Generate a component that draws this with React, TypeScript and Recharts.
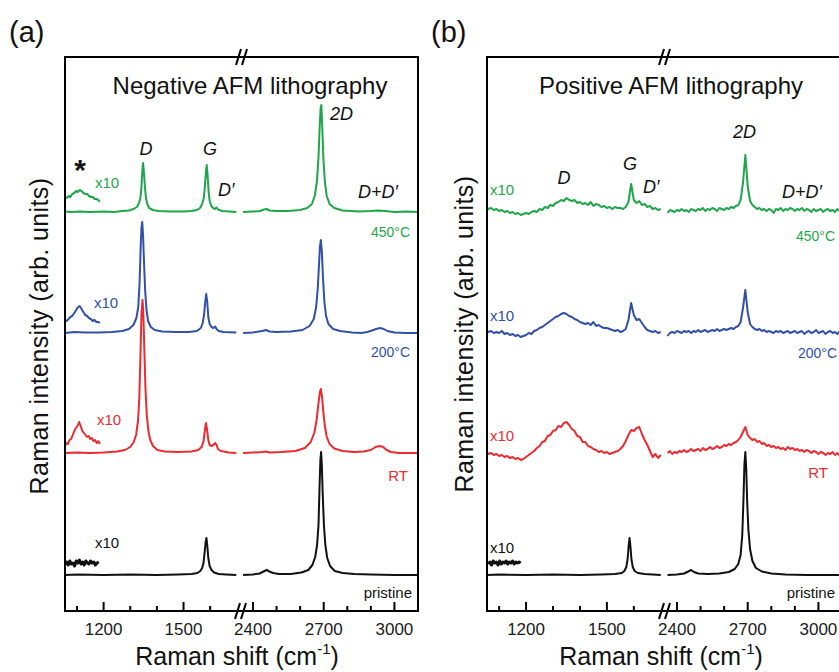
import React from 'react';
import { LineChart, Line, XAxis, YAxis } from 'recharts';

const FONT = '"Liberation Sans", Arial, Helvetica, sans-serif';
const GREEN = '#1FA64A';
const BLUE = '#3350A8';
const RED = '#EC2A30';
const BLACK = '#111111';

// ---- axes ----
const LOW_DOMAIN = [1055, 1712];
const HIGH_DOMAIN = [2345, 3100];
const LOW_TICKS = [1100, 1200, 1300, 1400, 1500, 1600];
const HIGH_TICKS = [2400, 2500, 2600, 2700, 2800, 2900, 3000];
const MAJOR_TICKS = [1200, 1500, 2400, 2700, 3000];
const Y_DOMAIN = [0, 554];

// ---- (a) Negative AFM lithography: stacking offsets [450C, 200C, RT, pristine] ----
const negOffsets = [399, 278, 158, 36];

const negGreenLow = [[1055,0.5],[1080,0],[1110,0.5],[1150,0],[1200,0.5],[1240,0],[1270,1],[1295,1.5],[1312,3],[1325,5],[1333,9],[1338,14],[1342,25],[1345,40],[1348,49],[1351,41],[1355,25],[1359,14],[1364,8],[1371,4],[1385,2],[1405,1],[1450,0.5],[1500,0.5],[1530,1],[1550,2],[1562,4],[1570,8],[1576,14],[1580,25],[1584,40],[1587,47],[1590,38],[1594,21],[1598,11],[1604,6],[1611,4],[1618,3],[1624,4.5],[1630,2.5],[1645,1],[1670,0.5],[1698,0]];
const negGreenHigh = [[2358,0],[2400,0.5],[2430,1],[2447,2.5],[2458,3],[2470,1.5],[2500,1],[2550,1],[2600,2],[2630,4],[2650,8],[2662,16],[2671,30],[2678,55],[2683,85],[2687,104],[2690,107],[2694,84],[2699,52],[2705,30],[2713,16],[2725,8],[2745,4],[2780,1.5],[2850,0.5],[2900,1],[2930,1.5],[2960,1],[3000,0],[3050,0.5],[3100,0]];
const negGreenX10 = [[1055,15],[1062,14],[1068,16],[1075,15],[1082,18],[1090,19],[1097,21],[1104,20],[1110,22],[1117,21],[1124,19],[1131,18],[1138,18],[1145,16],[1152,15],[1159,15],[1166,13],[1173,13],[1180,12],[1186,10]];

const negBlueLow = [[1055,0],[1090,1],[1130,0.5],[1180,0.5],[1230,1],[1270,2],[1295,4],[1312,8],[1323,15],[1330,26],[1335,50],[1339,85],[1342,105],[1345,111],[1348,98],[1352,68],[1356,42],[1361,23],[1367,12],[1377,6],[1392,3],[1420,1.5],[1470,1],[1520,1],[1550,2],[1565,5],[1572,10],[1577,18],[1581,30],[1585,39],[1589,31],[1593,16],[1598,9],[1605,6],[1612,5],[1619,6.5],[1624,4],[1632,2],[1650,1],[1698,0.5]];
const negBlueHigh = [[2358,0],[2400,0.5],[2440,2],[2455,3],[2470,1.5],[2500,1],[2560,1.5],[2610,3],[2640,7],[2658,14],[2668,26],[2675,45],[2680,68],[2684,86],[2688,93],[2692,82],[2697,55],[2703,31],[2710,17],[2720,9],[2740,4],[2770,2],[2820,0.5],[2860,0],[2885,1],[2905,2.5],[2922,4],[2940,5],[2955,4],[2970,2],[3000,0.5],[3050,0],[3100,0]];
const negBlueX10 = [[1055,13],[1062,12],[1068,14],[1075,16],[1082,17],[1090,20],[1097,23],[1104,26],[1110,27],[1117,24],[1124,21],[1131,18],[1138,17],[1145,15],[1152,14],[1159,12],[1166,13],[1173,11],[1180,11],[1186,10]];

const negRedLow = [[1055,0],[1100,0.5],[1150,0],[1200,0.5],[1250,1.5],[1280,3],[1300,6],[1313,11],[1322,18],[1329,32],[1334,55],[1338,95],[1342,138],[1346,153],[1349,140],[1353,102],[1357,65],[1362,38],[1368,22],[1375,13],[1385,7],[1402,3],[1430,1.5],[1480,1],[1530,1.5],[1555,3],[1568,6],[1575,12],[1580,22],[1584,30],[1588,24],[1593,13],[1598,8],[1605,7],[1612,8],[1619,10],[1624,8],[1629,4],[1640,2],[1670,0.5],[1698,0]];
const negRedHigh = [[2358,0],[2400,0.5],[2440,1],[2455,1.5],[2470,0.5],[2520,1],[2580,2],[2620,5],[2645,11],[2660,20],[2670,33],[2678,50],[2684,61],[2688,64],[2693,56],[2698,42],[2705,27],[2713,16],[2725,9],[2745,4.5],[2780,2],[2830,1],[2870,1.5],[2900,3],[2920,6],[2937,7],[2952,6],[2967,3],[2985,1],[3020,0],[3100,0]];
const negRedX10 = [[1055,7],[1060,10],[1066,9],[1072,13],[1078,14],[1084,18],[1090,22],[1096,25],[1102,27],[1108,31],[1114,27],[1120,22],[1126,20],[1132,18],[1138,16],[1144,17],[1150,14],[1156,15],[1162,12],[1168,13],[1174,10],[1180,12],[1186,9]];

const negBlackLow = [[1055,0],[1100,0.5],[1200,0],[1300,0.5],[1400,0],[1480,0.5],[1530,1],[1552,2],[1563,4],[1570,7],[1575,12],[1579,22],[1583,33],[1586,37],[1589,30],[1593,17],[1598,9],[1605,5],[1615,2.5],[1632,1],[1660,0.5],[1698,0]];
const negBlackHigh = [[2358,0],[2400,0.5],[2428,1.5],[2445,3.5],[2458,5],[2470,3.5],[2485,2],[2510,1],[2560,1],[2605,2.5],[2635,5],[2652,10],[2664,18],[2672,30],[2678,50],[2682,85],[2686,115],[2689,123],[2692,110],[2696,80],[2701,50],[2707,30],[2715,17],[2727,9],[2747,4],[2780,2],[2830,1],[2900,0.5],[3000,0],[3100,0]];
const negBlackX10 = [[1055,11],[1061,13],[1067,10],[1073,14],[1079,11],[1085,12],[1091,9],[1097,14],[1103,12],[1109,15],[1115,11],[1121,13],[1127,10],[1133,14],[1139,12],[1145,11],[1151,14],[1157,12],[1163,13],[1169,10],[1175,12],[1182,13]];

// ---- (b) Positive AFM lithography ----
const posOffsets = [401, 279, 157, 36];
const posLowX = [1055,1060,1070,1080,1090,1100,1110,1120,1130,1140,1150,1160,1170,1180,1190,1200,1210,1220,1230,1240,1250,1260,1270,1280,1290,1300,1310,1320,1330,1340,1350,1360,1370,1380,1390,1400,1410,1420,1430,1440,1450,1460,1470,1480,1490,1500,1510,1520,1530,1540,1550,1560,1570,1580,1590,1600,1610,1620,1630,1640,1650,1660,1670,1680,1690,1700];
const posHighX = [2360,2370,2380,2390,2400,2410,2420,2430,2440,2450,2460,2470,2480,2490,2500,2510,2520,2530,2540,2550,2560,2570,2580,2590,2600,2610,2620,2630,2640,2650,2660,2670,2680,2690,2700,2710,2720,2730,2740,2750,2760,2770,2780,2790,2800,2810,2820,2830,2840,2850,2860,2870,2880,2890,2900,2910,2920,2930,2940,2950,2960,2970,2980,2990,3000,3010,3020,3030,3040,3050,3060,3070,3080,3090,3100];

const posGreenLow = [2,1,2,0,1,-1,0,-2,-1,-3, -2,-4,-3,-5,-4,-3,-4,-2,-1,-2, 1,0,3,2,5,4,7,8,10,9, 12,10,9,10,7,8,6,7,5,8, 4,6,5,3,4,2,3,1,3,2, 2,1,3,8,26,10,7,9,5,6, 3,4,1,2,0,1];
const posGreenHigh = [-3,0,-1,-2,0,-1,1,-1,0,-2, 1,0,-1,1,0,2,-1,1,0,2, 1,-1,2,1,0,2,1,3,2,4, 5,10,27,55,24,9,5,3,1,2, 0,1,-1,1,0,-3,1,0,2,-1, 1,0,2,1,-1,1,0,2,-1,1, 0,-2,1,-1,0,1,-2,0,1,-1, 0,-2,1,-1,0];
const posBlueLow = [1,0,1,-1,0,-1,1,-2,-1,-3, -2,-4,-3,-5,-4,-3,-1,-2,1,2, 4,5,7,9,11,13,15,16,18,19, 18,16,15,13,12,10,9,8,9,7, 10,6,7,5,4,4,3,2,1,2, 0,1,3,12,29,17,12,13,9,5, 2,1,0,1,-1,0];
const posBlueHigh = [-4,-1,0,-1,1,0,-1,1,0,1, -1,1,0,2,0,1,2,0,1,2, 1,3,1,2,3,2,3,4,3,5, 6,10,24,42,20,8,5,3,2,3, 1,2,0,1,0,-1,1,0,1,-1, 0,1,-1,0,1,-1,0,1,-2,0, 1,-1,0,2,-1,0,1,-2,0,1, -1,0,-2,1,-1];
const posRedLow = [2,0,1,-1,0,-2,-1,-3,-2,-4, -3,-5,-4,-6,-5,-3,-1,1,3,6, 8,12,13,18,19,23,24,28,27,31, 32,29,25,23,18,17,12,12,8,7, 5,4,2,3,1,2,0,1,2,3, 5,8,13,19,24,23,26,27,20,14, 9,3,-3,0,-4,-1];
const posRedHigh = [1,3,0,2,1,3,2,4,2,3, 5,3,4,5,3,6,4,5,7,5, 6,8,6,7,9,8,10,9,11,12, 14,17,22,27,19,16,14,15,12,13, 10,11,8,9,7,8,6,7,5,6, 4,7,5,6,4,5,3,4,2,4, 3,1,3,2,0,2,1,-1,1,0, 2,-1,1,-2,0];
const posBlackLow = [[1055,0],[1100,0.5],[1200,0],[1300,0.5],[1400,0],[1480,0.5],[1530,1],[1555,2],[1565,4],[1572,8],[1577,16],[1581,30],[1584,37],[1587,30],[1591,16],[1596,8],[1603,4],[1615,2],[1640,1],[1670,0.5],[1700,0]];
const posBlackHigh = [[2360,0],[2400,0.5],[2430,1.5],[2448,3.5],[2460,5],[2472,3],[2490,1.5],[2530,1],[2580,1.5],[2620,3],[2645,6],[2660,11],[2670,20],[2677,40],[2682,75],[2686,110],[2690,123],[2694,105],[2698,72],[2703,45],[2710,26],[2720,14],[2735,7],[2760,3.5],[2800,1.5],[2860,0.5],[2950,0],[3100,0]];
const posBlackX10 = [[1060,11],[1066,13],[1072,10],[1078,14],[1084,12],[1090,13],[1096,10],[1102,14],[1108,11],[1114,13],[1120,12],[1126,14],[1132,11],[1138,13],[1144,12],[1150,14],[1156,11],[1162,13],[1168,12],[1174,13],[1180,12]];

// ---- builders ----
type Row = { x: number; y: number };
const fromPairs = (pairs: number[][], offset: number): Row[] => pairs.map(([x, v]) => ({ x, y: v + offset }));
const fromGrid = (xs: number[], vs: number[], offset: number): Row[] => xs.map((x, i) => ({ x, y: vs[i] + offset }));

type Series = { data: Row[]; color: string; width: number };

const negLow: Series[] = [
  { data: fromPairs(negGreenLow, negOffsets[0]), color: GREEN, width: 2 },
  { data: fromPairs(negGreenX10, negOffsets[0]), color: GREEN, width: 2 },
  { data: fromPairs(negBlueLow, negOffsets[1]), color: BLUE, width: 2 },
  { data: fromPairs(negBlueX10, negOffsets[1]), color: BLUE, width: 2 },
  { data: fromPairs(negRedLow, negOffsets[2]), color: RED, width: 2 },
  { data: fromPairs(negRedX10, negOffsets[2]), color: RED, width: 2 },
  { data: fromPairs(negBlackLow, negOffsets[3]), color: BLACK, width: 2 },
  { data: fromPairs(negBlackX10, negOffsets[3]), color: BLACK, width: 3 },
];
const negHigh: Series[] = [
  { data: fromPairs(negGreenHigh, negOffsets[0]), color: GREEN, width: 2 },
  { data: fromPairs(negBlueHigh, negOffsets[1]), color: BLUE, width: 2 },
  { data: fromPairs(negRedHigh, negOffsets[2]), color: RED, width: 2 },
  { data: fromPairs(negBlackHigh, negOffsets[3]), color: BLACK, width: 2 },
];
const posLow: Series[] = [
  { data: fromGrid(posLowX, posGreenLow, posOffsets[0]), color: GREEN, width: 2 },
  { data: fromGrid(posLowX, posBlueLow, posOffsets[1]), color: BLUE, width: 2 },
  { data: fromGrid(posLowX, posRedLow, posOffsets[2]), color: RED, width: 2 },
  { data: fromPairs(posBlackLow, posOffsets[3]), color: BLACK, width: 2 },
  { data: fromPairs(posBlackX10, posOffsets[3]), color: BLACK, width: 3 },
];
const posHigh: Series[] = [
  { data: fromGrid(posHighX, posGreenHigh, posOffsets[0]), color: GREEN, width: 2 },
  { data: fromGrid(posHighX, posBlueHigh, posOffsets[1]), color: BLUE, width: 2 },
  { data: fromGrid(posHighX, posRedHigh, posOffsets[2]), color: RED, width: 2 },
  { data: fromPairs(posBlackHigh, posOffsets[3]), color: BLACK, width: 2 },
];

// ---- layout ----
const PLOT_TOP = 57;
const PLOT_H = 554;
const AXIS_H = 40;
const PAD = 30;

const AxisTick = (props: any) => {
  const { x, y, payload } = props;
  const v = payload.value;
  const major = MAJOR_TICKS.includes(v);
  return (
    <g>
      <line x1={x} x2={x} y1={y} y2={y - (major ? 9 : 5)} stroke="#000" strokeWidth={2} />
      {major ? (
        <text x={x} y={y + 24} textAnchor="middle" fontSize={17} fontFamily={FONT} fill="#1a1a1a">
          {v}
        </text>
      ) : null}
    </g>
  );
};

function Segment({ left, width, domain, ticks, series }: { left: number; width: number; domain: number[]; ticks: number[]; series: Series[] }) {
  const w = width + 2 * PAD;
  return (
    <div style={{ position: 'absolute', left: left - PAD, top: PLOT_TOP, width: w, height: PLOT_H + AXIS_H }}>
      <LineChart width={w} height={PLOT_H + AXIS_H} margin={{ top: 0, right: PAD, bottom: 0, left: PAD }}>
        <XAxis
          type="number"
          dataKey="x"
          domain={domain}
          ticks={ticks}
          interval={0}
          allowDataOverflow
          height={AXIS_H}
          tickSize={0}
          tickMargin={0}
          tickLine={false}
          axisLine={{ stroke: '#000', strokeWidth: 2 }}
          tick={AxisTick}
        />
        <YAxis type="number" domain={Y_DOMAIN} hide allowDataOverflow />
        {series.map((s, i) => (
          <Line
            key={i}
            data={s.data}
            dataKey="y"
            type="linear"
            stroke={s.color}
            strokeWidth={s.width}
            strokeLinejoin="round"
            dot={false}
            activeDot={false}
            isAnimationActive={false}
          />
        ))}
      </LineChart>
    </div>
  );
}

const Slashes = ({ cx, cy }: { cx: number; cy: number }) => (
  <g stroke="#000" strokeWidth={2}>
    <line x1={cx - 6} y1={cy + 8} x2={cx - 1} y2={cy - 8} />
    <line x1={cx} y1={cy + 8} x2={cx + 5} y2={cy - 8} />
  </g>
);

const T = (p: any) => <text fontFamily={FONT} {...p} />;

export default function App() {
  return (
    <div style={{ position: 'absolute', left: 0, top: 0, width: 839, height: 672, overflow: 'hidden', background: '#fff' }}>
      <Segment left={65} width={175} domain={LOW_DOMAIN} ticks={LOW_TICKS} series={negLow} />
      <Segment left={240} width={178} domain={HIGH_DOMAIN} ticks={HIGH_TICKS} series={negHigh} />
      <Segment left={487} width={177} domain={LOW_DOMAIN} ticks={LOW_TICKS} series={posLow} />
      <Segment left={664} width={178} domain={HIGH_DOMAIN} ticks={HIGH_TICKS} series={posHigh} />
      <svg width={839} height={672} style={{ position: 'absolute', left: 0, top: 0, pointerEvents: 'none' }}>
        {/* frames */}
        <g stroke="#000" strokeWidth={2} fill="none">
          <line x1={65} y1={56} x2={65} y2={612} />
          <line x1={64} y1={57} x2={419} y2={57} />
          <line x1={418} y1={56} x2={418} y2={612} />
          <line x1={487} y1={56} x2={487} y2={612} />
          <line x1={486} y1={57} x2={842} y2={57} />
        </g>
        <Slashes cx={242} cy={57} />
        <Slashes cx={241} cy={611} />
        <Slashes cx={665} cy={57} />
        <Slashes cx={665} cy={611} />

        {/* panel letters */}
        <T x={9} y={42} fontSize={29} fill="#111">(a)</T>
        <T x={431} y={42} fontSize={29} fill="#111">(b)</T>

        {/* titles */}
        <T x={250} y={94} fontSize={24} textAnchor="middle" fill="#111">Negative AFM lithography</T>
        <T x={671} y={94} fontSize={24} textAnchor="middle" fill="#111">Positive AFM lithography</T>

        {/* y titles */}
        <T x={48} y={336} fontSize={25} letterSpacing={0.4} textAnchor="middle" fill="#111" transform="rotate(-90 48 336)">Raman intensity (arb. units)</T>
        <T x={473} y={334} fontSize={25} letterSpacing={0.4} textAnchor="middle" fill="#111" transform="rotate(-90 473 334)">Raman intensity (arb. units)</T>

        {/* x titles */}
        <T x={237} y={665} fontSize={25} textAnchor="middle" fill="#111">
          Raman shift (cm<tspan fontSize={15} dy={-11}>-1</tspan><tspan dy={11}>)</tspan>
        </T>
        <T x={661} y={665} fontSize={25} textAnchor="middle" fill="#111">
          Raman shift (cm<tspan fontSize={15} dy={-11}>-1</tspan><tspan dy={11}>)</tspan>
        </T>

        {/* (a) annotations */}
        <T x={80} y={180} fontSize={30} fontWeight="bold" textAnchor="middle" fill="#111">*</T>
        <T x={95} y={188} fontSize={15} fill={GREEN}>x10</T>
        <T x={94} y={308} fontSize={15} fill={BLUE}>x10</T>
        <T x={97} y={425} fontSize={15} fill={RED}>x10</T>
        <T x={95} y={548} fontSize={15} fill={BLACK}>x10</T>
        <T x={410} y={237} fontSize={14} textAnchor="end" fill={GREEN}>450°C</T>
        <T x={410} y={357} fontSize={14} textAnchor="end" fill={BLUE}>200°C</T>
        <T x={408} y={481} fontSize={15} textAnchor="end" fill={RED}>RT</T>
        <T x={412} y={598} fontSize={15} textAnchor="end" fill={BLACK}>pristine</T>
        <T x={146} y={155} fontSize={18} fontStyle="italic" textAnchor="middle" fill="#111">D</T>
        <T x={210} y={155} fontSize={18} fontStyle="italic" textAnchor="middle" fill="#111">G</T>
        <T x={218} y={196} fontSize={18} fontStyle="italic" fill="#111">D′</T>
        <T x={330} y={120} fontSize={18} fontStyle="italic" fill="#111">2D</T>
        <T x={358} y={198} fontSize={18} fontStyle="italic" fill="#111">D+D′</T>

        {/* (b) annotations */}
        <T x={490} y={195} fontSize={15} fill={GREEN}>x10</T>
        <T x={490} y={321} fontSize={15} fill={BLUE}>x10</T>
        <T x={490} y={441} fontSize={15} fill={RED}>x10</T>
        <T x={490} y={553} fontSize={15} fill={BLACK}>x10</T>
        <T x={835} y={241} fontSize={14} textAnchor="end" fill={GREEN}>450°C</T>
        <T x={837} y={358} fontSize={14} textAnchor="end" fill={BLUE}>200°C</T>
        <T x={828} y={478} fontSize={15} textAnchor="end" fill={RED}>RT</T>
        <T x={835} y={598} fontSize={15} textAnchor="end" fill={BLACK}>pristine</T>
        <T x={564} y={184} fontSize={18} fontStyle="italic" textAnchor="middle" fill="#111">D</T>
        <T x={630} y={170} fontSize={18} fontStyle="italic" textAnchor="middle" fill="#111">G</T>
        <T x={643} y={193} fontSize={18} fontStyle="italic" fill="#111">D′</T>
        <T x={733} y={138} fontSize={18} fontStyle="italic" fill="#111">2D</T>
        <T x={782} y={198} fontSize={18} fontStyle="italic" fill="#111">D+D′</T>
      </svg>
    </div>
  );
}
